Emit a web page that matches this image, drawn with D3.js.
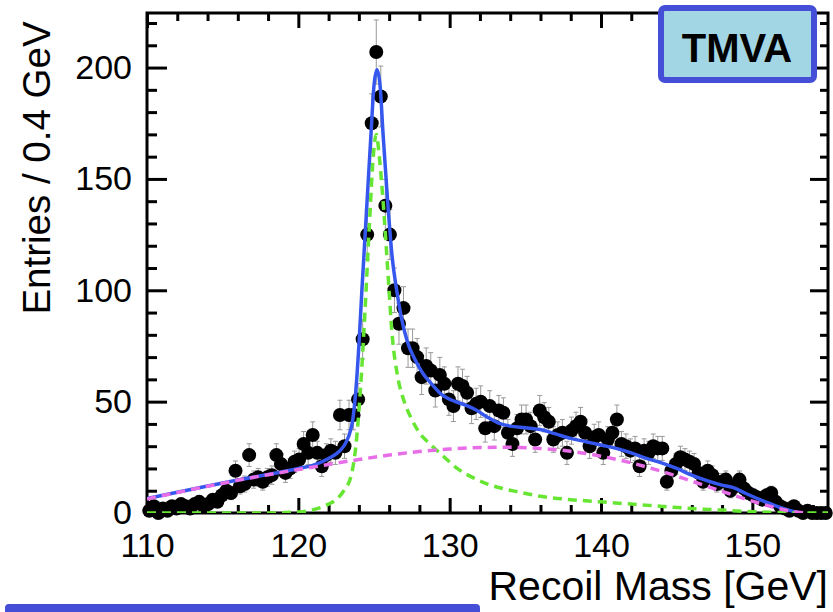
<!DOCTYPE html>
<html><head><meta charset="utf-8">
<script src="https://cdn.jsdelivr.net/npm/d3@7"></script>
<style>
html,body{margin:0;padding:0;background:#fff;}
svg{display:block;font-family:"Liberation Sans",Arial,Helvetica,sans-serif;}
</style>
</head><body>
<svg id="c" width="833" height="612"></svg>
<script>
// ---- data ----
const binLow = 110, binWidth = 0.3;
const counts = [
1,3,0,2,1,3,2,4,3,2,
4,5,3,4,6,5,8,10,9,19,
12,13,26,15,16,14,16,17,26,22,
18,20,23,24,31,27,35,27,21,26,
28,27,44,30,44,44,51,78,125,175,
207,187,138,125,100,85,92,74,74,70,
61,66,64,55,62,58,51,48,58,57,
54,47,49,50,38,48,39,46,45,36,
31,38,42,42,39,33,46,43,41,33,
35,36,27,37,39,41,36,30,34,35,
27,33,36,42,31,30,28,29,21,28,
27,30,29,29,14,19,22,25,24,23,
22,18,14,19,17,13,14,15,10,12,
15,11,9,8,7,6,8,9,5,3,
2,1,3,1,0,1,0,0,0,0
];
const bkgX = [110,112,114,116,118,120,122,124,126,128,130,132,134,136,138,140,142,144,146,148,150,151,152,153,153.5];
const bkgY = [6.3,9.2,12,14.7,17.2,19.5,21.8,24,26,27.6,28.7,29.4,29.5,29,27.7,25.5,22.5,18.7,14.3,9.7,5.3,3.3,1.6,0.3,0];
const sigX = [110,118,120,121,122,122.5,123,123.5,123.8,124.1,124.4,124.7,124.95,125.15,125.35,125.6,125.9,126.2,126.6,127,127.5,128,128.7,129.5,130.5,131.5,132.5,133.5,134.5,136,138,140,142,144,146,148,150,152,155];
const sigY = [0,0,0.5,1.5,4,6,10,17,30,55,90,130,160,170,160,140,110,80,60,50,42,36,31,26,20,16,13,11,9.5,7.5,6,5,4,3,2,1.3,0.6,0.2,0];
const totX = [110,112,114,116,118,120,121,122,122.5,123,123.3,123.6,123.8,124,124.2,124.5,124.8,125,125.2,125.4,125.6,125.9,126.2,126.5,126.8,127.2,127.7,128.2,128.8,129.5,130.2,131,131.8,132.5,133.2,134,135,136,137,138,139,140,141,142,143,144,145,146,147,148,148.7,149.5,150.5,151.5,152.3,153];
const totY = [6.5,9.3,12.1,14.8,17.3,20,21.5,24.5,26.5,30,34,42,55,75,100,135,170,192,199,192,170,140,115,100,88,77,69,63,58,53,50.5,48.5,46,43,40.5,39,38.3,37.5,35.5,33.5,32,30.5,29,27,24.5,22.5,20,17,14.5,12.5,11.5,9,6,3.3,1.5,0.2];
const xTicks = [110,120,130,140,150];
const yTicks = [0,50,100,150,200];
const xLabel = "Recoil Mass [GeV]";
const yLabel = "Entries / 0.4 GeV";
const badgeText = "TMVA";

// ---- layout ----
const L = 147, R = 828, T = 13, B = 513;
const svg = d3.select("#c");
const x = d3.scaleLinear().domain([110,155]).range([L,R]);
const y = d3.scaleLinear().domain([0,224.5]).range([B,T]);

const bins = counts.map((c,i)=>({x: binLow + binWidth*(i+0.5), c}));

svg.append("defs").append("clipPath").attr("id","pc")
  .append("rect").attr("x",L).attr("y",T).attr("width",R-L).attr("height",B-T);

// axes
function styleAxis(g){
  g.select(".domain").remove();
  g.selectAll(".tick line").attr("stroke","#000").attr("stroke-width",3);
  g.selectAll("text").attr("fill","#000");
}
const minorX = d3.range(110,156,2).filter(v=>v%10!==0);
const minorY = d3.range(0,225,10).filter(v=>v%50!==0);

svg.append("g").attr("transform",`translate(0,${B})`)
  .call(d3.axisBottom(x).tickValues(xTicks).tickSizeInner(-15).tickSizeOuter(0).tickPadding(20).tickFormat(d3.format("d")))
  .call(styleAxis).selectAll("text").attr("font-size",34).attr("font-family","Liberation Sans, Arial, sans-serif");
svg.append("g").attr("transform",`translate(0,${B})`)
  .call(d3.axisBottom(x).tickValues(minorX).tickSizeInner(-8).tickSizeOuter(0).tickFormat(""))
  .call(styleAxis);
svg.append("g").attr("transform",`translate(0,${T})`)
  .call(d3.axisTop(x).tickValues(xTicks).tickSizeInner(-15).tickSizeOuter(0).tickFormat(""))
  .call(styleAxis);
svg.append("g").attr("transform",`translate(0,${T})`)
  .call(d3.axisTop(x).tickValues(minorX).tickSizeInner(-8).tickSizeOuter(0).tickFormat(""))
  .call(styleAxis);

svg.append("g").attr("transform",`translate(${L},0)`)
  .call(d3.axisLeft(y).tickValues(yTicks).tickSizeInner(-20).tickSizeOuter(0).tickPadding(15).tickFormat(d3.format("d")))
  .call(styleAxis).selectAll("text").attr("font-size",34).attr("font-family","Liberation Sans, Arial, sans-serif");
svg.append("g").attr("transform",`translate(${L},0)`)
  .call(d3.axisLeft(y).tickValues(minorY).tickSizeInner(-10).tickSizeOuter(0).tickFormat(""))
  .call(styleAxis);
svg.append("g").attr("transform",`translate(${R},0)`)
  .call(d3.axisRight(y).tickValues(yTicks).tickSizeInner(-18).tickSizeOuter(0).tickFormat(""))
  .call(styleAxis);
svg.append("g").attr("transform",`translate(${R},0)`)
  .call(d3.axisRight(y).tickValues(minorY).tickSizeInner(-8).tickSizeOuter(0).tickFormat(""))
  .call(styleAxis);

// frame
svg.append("rect").attr("x",L).attr("y",T).attr("width",R-L).attr("height",B-T)
  .attr("fill","none").attr("stroke","#000").attr("stroke-width",3);

// error bars
const eb = svg.append("g").attr("stroke","#999").attr("stroke-width",1);
bins.filter(d=>d.c>0).forEach(d=>{
  const e = Math.sqrt(d.c);
  const cx = x(d.x), y1 = y(d.c+e), y2 = y(Math.max(d.c-e,0));
  eb.append("line").attr("x1",cx).attr("x2",cx).attr("y1",y1).attr("y2",y2);
  eb.append("line").attr("x1",cx-2.5).attr("x2",cx+2.5).attr("y1",y1).attr("y2",y1);
  eb.append("line").attr("x1",cx-2.5).attr("x2",cx+2.5).attr("y1",y2).attr("y2",y2);
});
// points
svg.append("g").selectAll("circle").data(bins).join("circle")
  .attr("cx",d=>x(d.x)).attr("cy",d=>y(d.c)).attr("r",7).attr("fill","#000");

// curves
const line = d3.line().x(d=>x(d[0])).y(d=>y(d[1])).curve(d3.curveMonotoneX);
const cg = svg.append("g").attr("clip-path","url(#pc)").attr("fill","none");
cg.append("path").attr("d",line(d3.zip(totX,totY))).attr("stroke","#3557ee").attr("stroke-width",3.5);
cg.append("path").attr("d",line(d3.zip(sigX,sigY))).attr("stroke","#66e633").attr("stroke-width",3.5).attr("stroke-dasharray","9,6");
cg.append("path").attr("d",line(d3.zip(bkgX,bkgY))).attr("stroke","#e86ee8").attr("stroke-width",3.5).attr("stroke-dasharray","9,6");

// labels
svg.append("text").attr("x",R).attr("y",600).attr("text-anchor","end")
  .attr("font-size",41).attr("fill","#000").text(xLabel);
svg.append("text").attr("transform","translate(50,168) rotate(-90)").attr("text-anchor","middle")
  .attr("font-size",38.5).attr("fill","#000").text(yLabel);

// badge
svg.append("rect").attr("x",661).attr("y",8).attr("width",153).attr("height",72).attr("rx",4)
  .attr("fill","#a3d6e4").attr("stroke","#444ed6").attr("stroke-width",6);
svg.append("text").attr("x",737).attr("y",62).attr("text-anchor","middle")
  .attr("font-size",40).attr("font-weight","bold").attr("fill","#000").text(badgeText);

// bottom bar
svg.append("rect").attr("x",5).attr("y",604).attr("width",475).attr("height",16).attr("rx",4)
  .attr("fill","#444ed6");
</script>
</body></html>
